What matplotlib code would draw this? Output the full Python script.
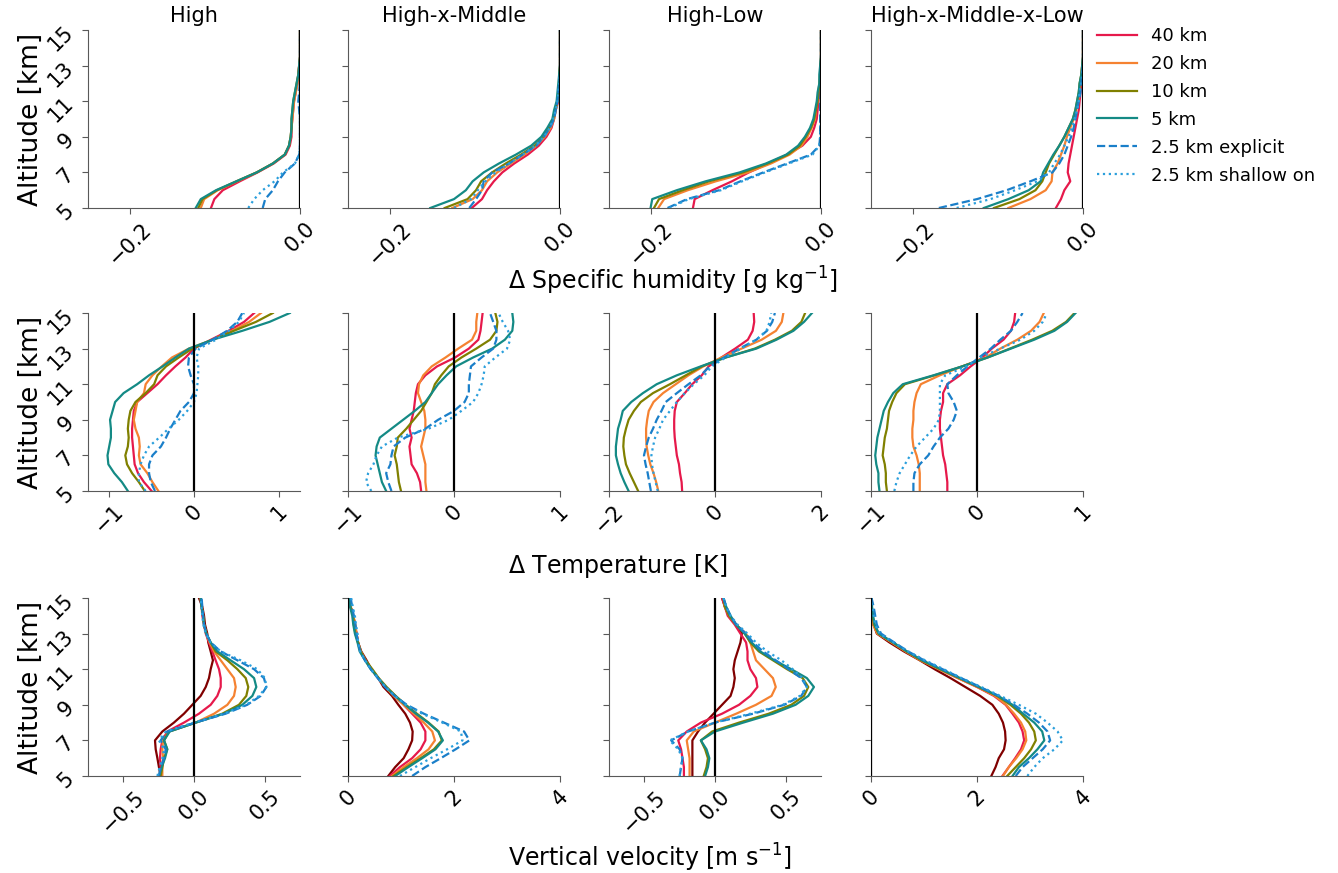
import numpy as np
import matplotlib.pyplot as plt

# altitude levels [km]
altitude = np.arange(5.0, 15.01, 0.5)

cases = ['High', 'High-x-Middle', 'High-Low', 'High-x-Middle-x-Low']
labels = ['40 km', '20 km', '10 km', '5 km', '2.5 km explicit', '2.5 km shallow on']
colors = ['#e6194b', '#f58231', '#808000', '#148a85', '#1a7fc9', '#2a9fdc']
styles = ['-', '-', '-', '-', '--', ':']
color_80 = '#800000'

# --- delta specific humidity [g/kg], rows: 40, 20, 10, 5, 2.5 explicit, 2.5 shallow on
dq_high = [
    [-0.105, -0.101, -0.091, -0.071, -0.050, -0.031, -0.017, -0.012, -0.010, -0.010, -0.009, -0.008, -0.007, -0.005, -0.003, -0.002, -0.001, 0, 0, 0, 0],
    [-0.117, -0.113, -0.097, -0.074, -0.051, -0.032, -0.018, -0.013, -0.011, -0.010, -0.009, -0.008, -0.007, -0.005, -0.003, -0.002, -0.001, 0, 0, 0, 0],
    [-0.120, -0.115, -0.098, -0.075, -0.051, -0.032, -0.018, -0.013, -0.011, -0.010, -0.010, -0.009, -0.008, -0.006, -0.004, -0.002, -0.001, 0, 0, 0, 0],
    [-0.123, -0.117, -0.099, -0.075, -0.051, -0.032, -0.018, -0.013, -0.011, -0.010, -0.010, -0.009, -0.008, -0.006, -0.004, -0.002, -0.001, 0, 0, 0, 0],
    [-0.044, -0.041, -0.032, -0.026, -0.018, -0.006, -0.001, 0, 0, 0, 0, -0.001, -0.002, -0.001, 0, 0, 0, 0, 0, 0, 0],
    [-0.061, -0.054, -0.044, -0.030, -0.020, -0.006, -0.001, 0, 0, 0, 0, 0, 0, 0, 0, 0, 0, 0, 0, 0, 0],
]
dq_hxm = [
    [-0.104, -0.092, -0.086, -0.078, -0.068, -0.054, -0.038, -0.025, -0.016, -0.010, -0.007, -0.005, -0.002, -0.002, -0.001, 0, 0, 0, 0, 0, 0],
    [-0.127, -0.103, -0.092, -0.086, -0.074, -0.058, -0.042, -0.028, -0.018, -0.011, -0.007, -0.005, -0.003, -0.002, -0.001, -0.001, 0, 0, 0, 0, 0],
    [-0.136, -0.109, -0.099, -0.093, -0.080, -0.064, -0.046, -0.030, -0.020, -0.013, -0.008, -0.006, -0.003, -0.002, -0.001, -0.001, 0, 0, 0, 0, 0],
    [-0.153, -0.125, -0.111, -0.103, -0.090, -0.072, -0.052, -0.034, -0.022, -0.015, -0.009, -0.007, -0.004, -0.003, -0.002, -0.001, 0, 0, 0, 0, 0],
    [-0.107, -0.099, -0.092, -0.090, -0.080, -0.060, -0.044, -0.028, -0.019, -0.012, -0.007, -0.005, -0.003, -0.002, -0.001, 0, 0, 0, 0, 0, 0],
    [-0.125, -0.105, -0.097, -0.088, -0.076, -0.060, -0.044, -0.029, -0.019, -0.012, -0.008, -0.005, -0.003, -0.002, -0.001, 0, 0, 0, 0, 0, 0],
]
dq_hl = [
    [-0.151, -0.149, -0.128, -0.105, -0.085, -0.062, -0.040, -0.022, -0.012, -0.008, -0.005, -0.004, -0.003, -0.002, -0.001, 0, 0, 0, 0, 0, 0],
    [-0.192, -0.185, -0.157, -0.124, -0.086, -0.059, -0.037, -0.023, -0.016, -0.011, -0.007, -0.006, -0.004, -0.003, -0.001, -0.001, 0, 0, 0, 0, 0],
    [-0.197, -0.191, -0.163, -0.132, -0.092, -0.063, -0.039, -0.025, -0.018, -0.012, -0.008, -0.006, -0.004, -0.003, -0.002, -0.001, -0.001, 0, 0, 0, 0],
    [-0.201, -0.199, -0.170, -0.136, -0.096, -0.065, -0.041, -0.027, -0.019, -0.013, -0.009, -0.007, -0.005, -0.004, -0.002, -0.002, -0.001, 0, 0, 0, 0],
    [-0.181, -0.158, -0.120, -0.095, -0.068, -0.040, -0.012, -0.002, -0.001, -0.001, -0.001, -0.001, -0.001, 0, 0, 0, 0, 0, 0, 0, 0],
    [-0.179, -0.156, -0.118, -0.093, -0.066, -0.038, -0.010, -0.002, -0.001, -0.001, 0, 0, 0, 0, 0, 0, 0, 0, 0, 0, 0],
]
dq_hxmxl = [
    [-0.032, -0.026, -0.022, -0.015, -0.018, -0.017, -0.015, -0.013, -0.011, -0.009, -0.007, -0.005, -0.004, -0.003, -0.002, -0.001, 0, 0, 0, 0, 0],
    [-0.088, -0.062, -0.044, -0.037, -0.036, -0.030, -0.026, -0.022, -0.019, -0.015, -0.011, -0.008, -0.006, -0.004, -0.003, -0.002, -0.001, 0, 0, 0, 0],
    [-0.105, -0.075, -0.056, -0.048, -0.044, -0.040, -0.034, -0.028, -0.022, -0.017, -0.012, -0.009, -0.007, -0.005, -0.004, -0.002, -0.001, 0, 0, 0, 0],
    [-0.117, -0.088, -0.064, -0.050, -0.047, -0.041, -0.035, -0.028, -0.022, -0.017, -0.012, -0.009, -0.007, -0.005, -0.004, -0.002, -0.001, 0, 0, 0, 0],
    [-0.170, -0.125, -0.090, -0.062, -0.036, -0.028, -0.022, -0.018, -0.014, -0.011, -0.009, -0.007, -0.005, -0.003, -0.002, -0.001, 0, 0, 0, 0, 0],
    [-0.149, -0.109, -0.080, -0.054, -0.040, -0.034, -0.027, -0.022, -0.017, -0.013, -0.010, -0.007, -0.005, -0.004, -0.002, -0.001, 0, 0, 0, 0, 0],
]

# --- delta temperature [K]
dt_high = [
    [-0.50, -0.59, -0.66, -0.70, -0.71, -0.72, -0.73, -0.73, -0.72, -0.71, -0.67, -0.55, -0.43, -0.33, -0.22, -0.10, 0.00, 0.20, 0.41, 0.59, 0.71],
    [-0.42, -0.49, -0.55, -0.63, -0.65, -0.64, -0.65, -0.69, -0.71, -0.69, -0.67, -0.59, -0.57, -0.49, -0.38, -0.26, -0.06, 0.22, 0.45, 0.65, 0.79],
    [-0.58, -0.65, -0.73, -0.79, -0.81, -0.78, -0.77, -0.78, -0.77, -0.75, -0.69, -0.57, -0.47, -0.43, -0.33, -0.18, -0.02, 0.22, 0.47, 0.73, 0.93],
    [-0.78, -0.85, -0.94, -1.01, -1.02, -1.00, -0.98, -0.98, -0.99, -0.96, -0.93, -0.83, -0.67, -0.53, -0.37, -0.22, -0.06, 0.22, 0.57, 0.89, 1.13],
    [-0.46, -0.51, -0.53, -0.53, -0.49, -0.39, -0.33, -0.28, -0.22, -0.16, -0.06, 0.00, 0.00, -0.04, -0.07, -0.06, 0.02, 0.22, 0.39, 0.51, 0.57],
    [-0.57, -0.65, -0.65, -0.63, -0.59, -0.53, -0.41, -0.30, -0.18, -0.08, 0.00, 0.03, 0.04, 0.05, 0.05, 0.03, 0.06, 0.26, 0.41, 0.53, 0.59],
]
dt_hxm = [
    [-0.31, -0.32, -0.35, -0.40, -0.41, -0.42, -0.40, -0.42, -0.40, -0.38, -0.37, -0.36, -0.34, -0.27, -0.16, 0.01, 0.14, 0.23, 0.25, 0.26, 0.27],
    [-0.26, -0.27, -0.27, -0.27, -0.29, -0.31, -0.29, -0.27, -0.27, -0.28, -0.31, -0.34, -0.33, -0.29, -0.21, -0.08, 0.04, 0.17, 0.21, 0.21, 0.22],
    [-0.50, -0.52, -0.53, -0.54, -0.56, -0.54, -0.53, -0.45, -0.38, -0.31, -0.26, -0.21, -0.18, -0.12, -0.05, 0.07, 0.21, 0.34, 0.40, 0.41, 0.39],
    [-0.64, -0.68, -0.70, -0.72, -0.74, -0.73, -0.70, -0.59, -0.48, -0.37, -0.27, -0.21, -0.15, -0.07, 0.02, 0.18, 0.36, 0.48, 0.55, 0.56, 0.55],
    [-0.59, -0.62, -0.64, -0.60, -0.59, -0.57, -0.46, -0.27, -0.15, 0.00, 0.10, 0.14, 0.14, 0.15, 0.16, 0.26, 0.37, 0.40, 0.40, 0.37, 0.34],
    [-0.78, -0.83, -0.81, -0.76, -0.73, -0.68, -0.53, -0.24, -0.05, 0.07, 0.18, 0.23, 0.26, 0.28, 0.29, 0.39, 0.50, 0.53, 0.51, 0.46, 0.42],
]
dt_hl = [
    [-0.62, -0.63, -0.66, -0.68, -0.72, -0.74, -0.76, -0.77, -0.77, -0.76, -0.72, -0.57, -0.43, -0.25, -0.12, 0.12, 0.38, 0.62, 0.71, 0.74, 0.73],
    [-1.07, -1.11, -1.16, -1.22, -1.26, -1.29, -1.30, -1.30, -1.28, -1.25, -1.16, -0.98, -0.74, -0.50, -0.22, 0.12, 0.50, 0.88, 1.15, 1.26, 1.29],
    [-1.45, -1.53, -1.61, -1.68, -1.71, -1.73, -1.72, -1.68, -1.63, -1.53, -1.40, -1.17, -0.85, -0.55, -0.25, 0.20, 0.75, 1.13, 1.45, 1.63, 1.70],
    [-1.63, -1.71, -1.78, -1.83, -1.87, -1.87, -1.85, -1.83, -1.78, -1.74, -1.58, -1.36, -1.10, -0.72, -0.27, 0.20, 0.78, 1.16, 1.48, 1.68, 1.83],
    [-1.21, -1.24, -1.27, -1.31, -1.34, -1.30, -1.25, -1.17, -1.10, -1.01, -0.93, -0.72, -0.50, -0.27, -0.10, 0.17, 0.46, 0.78, 0.98, 1.08, 1.13],
    [-1.08, -1.12, -1.16, -1.19, -1.20, -1.17, -1.13, -1.05, -0.98, -0.85, -0.72, -0.57, -0.40, -0.20, -0.06, 0.20, 0.49, 0.78, 0.97, 1.03, 1.06],
]
dt_hxmxl = [
    [-0.28, -0.28, -0.29, -0.30, -0.32, -0.33, -0.34, -0.35, -0.35, -0.34, -0.32, -0.32, -0.28, -0.16, -0.06, 0.05, 0.14, 0.25, 0.32, 0.35, 0.36],
    [-0.54, -0.54, -0.54, -0.55, -0.57, -0.60, -0.61, -0.61, -0.60, -0.60, -0.59, -0.57, -0.53, -0.35, -0.14, 0.08, 0.22, 0.38, 0.51, 0.59, 0.63],
    [-0.85, -0.86, -0.86, -0.87, -0.89, -0.88, -0.87, -0.85, -0.84, -0.83, -0.80, -0.76, -0.68, -0.40, -0.14, 0.10, 0.31, 0.52, 0.71, 0.84, 0.92],
    [-0.92, -0.93, -0.93, -0.95, -0.96, -0.95, -0.94, -0.92, -0.90, -0.88, -0.84, -0.79, -0.70, -0.41, -0.14, 0.10, 0.32, 0.54, 0.73, 0.85, 0.93],
    [-0.60, -0.60, -0.59, -0.54, -0.46, -0.41, -0.35, -0.27, -0.22, -0.19, -0.22, -0.27, -0.28, -0.19, -0.09, 0.02, 0.13, 0.22, 0.32, 0.38, 0.43],
    [-0.78, -0.76, -0.73, -0.68, -0.63, -0.57, -0.49, -0.41, -0.36, -0.35, -0.35, -0.35, -0.35, -0.30, -0.10, 0.03, 0.22, 0.41, 0.54, 0.62, 0.66],
]

# --- vertical velocity [m/s], rows: 80 (not in legend), 40, 20, 10, 5, 2.5 explicit, 2.5 shallow on
w_high = [
    [-0.236, -0.248, -0.259, -0.271, -0.276, -0.224, -0.142, -0.071, -0.012, 0.047, 0.083, 0.106, 0.118, 0.134, 0.118, 0.101, 0.094, 0.078, 0.071, 0.059, 0.035],
    [-0.229, -0.236, -0.241, -0.236, -0.224, -0.189, -0.071, 0.035, 0.118, 0.165, 0.189, 0.189, 0.177, 0.153, 0.130, 0.106, 0.083, 0.071, 0.059, 0.054, 0.047],
    [-0.224, -0.224, -0.219, -0.224, -0.219, -0.177, 0.012, 0.142, 0.236, 0.283, 0.295, 0.283, 0.236, 0.189, 0.142, 0.111, 0.087, 0.071, 0.064, 0.054, 0.047],
    [-0.236, -0.224, -0.212, -0.189, -0.212, -0.177, 0.012, 0.200, 0.318, 0.370, 0.384, 0.366, 0.307, 0.236, 0.153, 0.118, 0.087, 0.071, 0.064, 0.054, 0.047],
    [-0.248, -0.229, -0.205, -0.189, -0.212, -0.172, 0.012, 0.212, 0.342, 0.413, 0.441, 0.425, 0.354, 0.259, 0.165, 0.118, 0.087, 0.071, 0.064, 0.054, 0.047],
    [-0.248, -0.236, -0.212, -0.200, -0.236, -0.189, 0.007, 0.224, 0.377, 0.472, 0.512, 0.495, 0.425, 0.307, 0.189, 0.118, 0.087, 0.071, 0.064, 0.059, 0.054],
    [-0.259, -0.243, -0.224, -0.212, -0.248, -0.200, 0.000, 0.212, 0.370, 0.460, 0.512, 0.502, 0.448, 0.330, 0.189, 0.118, 0.083, 0.066, 0.059, 0.052, 0.047],
]
w_hxm = [
    [0.76, 0.89, 1.05, 1.14, 1.21, 1.22, 1.17, 1.08, 0.95, 0.83, 0.67, 0.57, 0.44, 0.35, 0.25, 0.19, 0.16, 0.13, 0.10, 0.05, 0.02],
    [0.79, 0.98, 1.21, 1.37, 1.46, 1.46, 1.37, 1.21, 1.05, 0.89, 0.70, 0.57, 0.44, 0.33, 0.24, 0.19, 0.16, 0.13, 0.10, 0.05, 0.03],
    [0.83, 1.05, 1.30, 1.52, 1.64, 1.59, 1.43, 1.24, 1.05, 0.86, 0.71, 0.57, 0.44, 0.33, 0.24, 0.19, 0.16, 0.14, 0.10, 0.05, 0.03],
    [0.86, 1.11, 1.37, 1.62, 1.77, 1.71, 1.52, 1.30, 1.09, 0.90, 0.73, 0.58, 0.46, 0.33, 0.24, 0.19, 0.14, 0.11, 0.10, 0.05, 0.03],
    [0.89, 1.14, 1.40, 1.65, 1.79, 1.70, 1.51, 1.28, 1.08, 0.89, 0.71, 0.57, 0.43, 0.32, 0.22, 0.18, 0.13, 0.10, 0.08, 0.04, 0.02],
    [1.21, 1.46, 1.75, 2.03, 2.29, 2.19, 1.81, 1.43, 1.11, 0.88, 0.70, 0.56, 0.43, 0.32, 0.23, 0.19, 0.16, 0.14, 0.11, 0.08, 0.05],
    [0.98, 1.27, 1.56, 1.87, 2.16, 2.13, 1.78, 1.40, 1.09, 0.88, 0.71, 0.57, 0.43, 0.32, 0.23, 0.19, 0.18, 0.15, 0.13, 0.09, 0.06],
]
w_hl = [
    [-0.16, -0.16, -0.16, -0.16, -0.16, -0.12, -0.07, -0.01, 0.05, 0.11, 0.13, 0.14, 0.13, 0.14, 0.16, 0.18, 0.19, 0.15, 0.10, 0.07, 0.05],
    [-0.22, -0.22, -0.23, -0.24, -0.26, -0.20, -0.10, 0.05, 0.17, 0.25, 0.30, 0.29, 0.25, 0.23, 0.23, 0.22, 0.18, 0.14, 0.09, 0.07, 0.05],
    [-0.18, -0.18, -0.18, -0.19, -0.20, -0.15, 0.00, 0.15, 0.29, 0.40, 0.43, 0.41, 0.35, 0.29, 0.27, 0.25, 0.22, 0.15, 0.10, 0.07, 0.06],
    [-0.08, -0.06, -0.05, -0.07, -0.10, -0.02, 0.17, 0.38, 0.54, 0.63, 0.66, 0.62, 0.51, 0.41, 0.31, 0.25, 0.21, 0.15, 0.10, 0.07, 0.06],
    [-0.07, -0.05, -0.04, -0.06, -0.10, 0.00, 0.20, 0.41, 0.57, 0.66, 0.70, 0.65, 0.54, 0.42, 0.32, 0.26, 0.21, 0.15, 0.11, 0.08, 0.06],
    [-0.25, -0.24, -0.23, -0.25, -0.31, -0.19, 0.00, 0.27, 0.49, 0.61, 0.65, 0.61, 0.52, 0.43, 0.34, 0.27, 0.22, 0.15, 0.11, 0.08, 0.06],
    [-0.25, -0.24, -0.23, -0.26, -0.32, -0.19, 0.00, 0.25, 0.48, 0.60, 0.65, 0.62, 0.55, 0.47, 0.37, 0.29, 0.23, 0.16, 0.11, 0.08, 0.06],
]
w_hxmxl = [
    [2.27, 2.35, 2.41, 2.51, 2.54, 2.53, 2.49, 2.41, 2.29, 2.06, 1.78, 1.50, 1.20, 0.92, 0.62, 0.35, 0.11, 0.05, 0.02, 0.01, 0.00],
    [2.48, 2.60, 2.72, 2.83, 2.89, 2.86, 2.79, 2.67, 2.54, 2.32, 2.00, 1.64, 1.29, 0.94, 0.66, 0.40, 0.13, 0.05, 0.02, 0.01, 0.00],
    [2.49, 2.60, 2.74, 2.86, 2.93, 2.91, 2.83, 2.70, 2.55, 2.34, 2.01, 1.64, 1.28, 0.93, 0.65, 0.39, 0.12, 0.04, 0.02, 0.01, 0.00],
    [2.57, 2.73, 2.89, 3.02, 3.11, 3.08, 2.98, 2.83, 2.63, 2.38, 2.03, 1.67, 1.30, 0.95, 0.67, 0.41, 0.14, 0.06, 0.03, 0.01, 0.00],
    [2.67, 2.79, 2.98, 3.14, 3.27, 3.23, 3.08, 2.87, 2.67, 2.40, 2.04, 1.68, 1.32, 0.97, 0.68, 0.42, 0.15, 0.07, 0.04, 0.02, 0.01],
    [2.73, 2.86, 3.05, 3.24, 3.38, 3.33, 3.17, 2.95, 2.70, 2.41, 2.06, 1.70, 1.35, 1.00, 0.70, 0.44, 0.19, 0.11, 0.08, 0.05, 0.01],
    [2.95, 3.08, 3.24, 3.46, 3.62, 3.52, 3.33, 3.11, 2.79, 2.44, 2.08, 1.71, 1.37, 1.02, 0.70, 0.43, 0.16, 0.08, 0.05, 0.03, 0.00],
]

rows = [
    [dq_high, dq_hxm, dq_hl, dq_hxmxl],
    [dt_high, dt_hxm, dt_hl, dt_hxmxl],
    [w_high, w_hxm, w_hl, w_hxmxl],
]
xlims = [
    [(-0.25, 0), (-0.25, 0), (-0.25, 0), (-0.25, 0)],
    [(-1.25, 1.25), (-1, 1), (-2, 2), (-1, 1)],
    [(-0.75, 0.75), (0, 4), (-0.75, 0.75), (0, 4)],
]
xticks = [
    [[-0.2, 0.0]] * 4,
    [[-1, 0, 1], [-1, 0, 1], [-2, 0, 2], [-1, 0, 1]],
    [[-0.5, 0.0, 0.5], [0, 2, 4], [-0.5, 0.0, 0.5], [0, 2, 4]],
]
xlabels = [r'$\Delta$ Specific humidity [g kg$^{-1}$]',
           r'$\Delta$ Temperature [K]',
           r'Vertical velocity [m s$^{-1}$]']

fig = plt.figure(figsize=(13.38, 8.73), dpi=100)
W, H = 1338.0, 873.0
col_left = [88, 348, 609, 871]
row_top = [30, 313, 598]
ax_w, ax_h = 212, 178

handles = []
for i in range(3):
    for j in range(4):
        ax = fig.add_axes([col_left[j] / W, 1 - (row_top[i] + ax_h) / H, ax_w / W, ax_h / H])
        data = rows[i][j]
        if i == 2:
            ax.plot(data[0], altitude, color=color_80, lw=1.6)
            data = data[1:]
        for k, prof in enumerate(data):
            ln, = ax.plot(prof, altitude, color=colors[k], ls=styles[k], lw=1.6, label=labels[k])
            if i == 0 and j == 0:
                handles.append(ln)
        ax.axvline(0, color='k', lw=1.6, zorder=5)
        ax.set_xlim(*xlims[i][j])
        ax.set_xticks(xticks[i][j])
        ax.set_ylim(5, 15)
        ax.set_yticks([5, 7, 9, 11, 13, 15])
        for s in ['top', 'right']:
            ax.spines[s].set_visible(False)
        for s in ['left', 'bottom']:
            ax.spines[s].set_color('0.35')
        ax.tick_params(colors='0.35', labelcolor='k', labelsize=15, length=4)
        plt.setp(ax.get_xticklabels(), rotation=45)
        plt.setp(ax.get_yticklabels(), rotation=45)
        if j == 0:
            ax.set_ylabel('Altitude [km]', fontsize=19)
            ax.yaxis.set_label_coords(-0.21, 0.5)
        else:
            ax.set_yticklabels([])
        if i == 0:
            ax.set_title(cases[j], fontsize=15)

label_base = [290, 573, 867]
for i in range(3):
    fig.text(508 / W, 1 - label_base[i] / H, xlabels[i], fontsize=17, ha='left', va='baseline')

fig.legend(handles=handles, loc='upper left', bbox_to_anchor=(1097 / W, 1 - 27 / H),
           frameon=False, fontsize=13, handlelength=2.2, borderaxespad=0, borderpad=0,
           labelspacing=0.55)

fig.savefig('out.png', dpi=100)
